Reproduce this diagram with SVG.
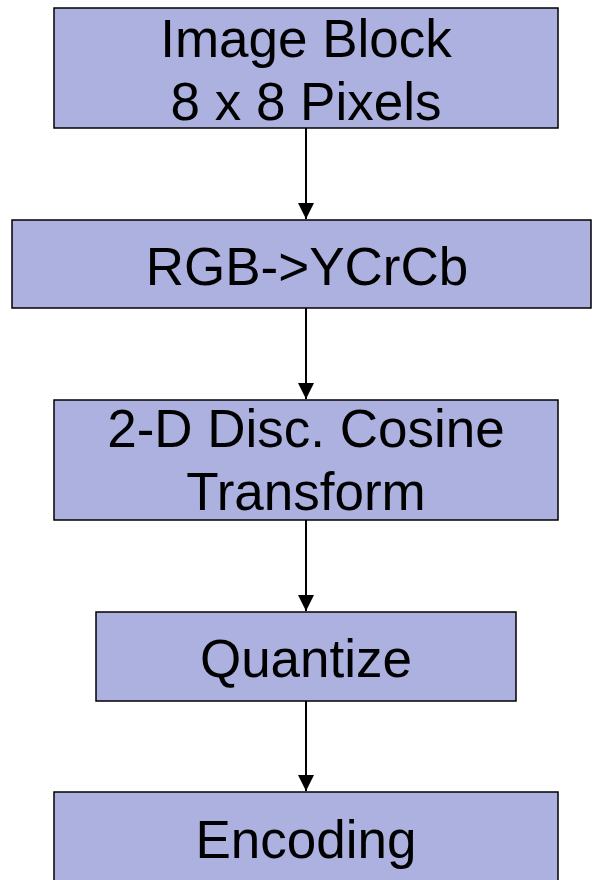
<svg xmlns="http://www.w3.org/2000/svg" width="592" height="880" viewBox="0 0 592 880">
<defs>
<style>
.box{fill:#ADB1E0;stroke:#000;stroke-width:1.5}
.t{font-family:"Liberation Sans",Arial,sans-serif;font-size:53px;fill:#000;text-anchor:middle}
.c{stroke:#000;stroke-width:2;fill:none;marker-end:url(#ah)}
</style>
<marker id="ah" markerUnits="userSpaceOnUse" markerWidth="16" markerHeight="16" refX="14" refY="7" orient="auto" viewBox="0 0 14 14">
<path d="M0,0 L14,7 L0,14 z" fill="#000"/>
</marker>
</defs>
<rect width="592" height="880" fill="#fff"/>
<g id="connectors">
<line class="c" x1="306" y1="128" x2="306" y2="219"/>
<line class="c" x1="306" y1="308" x2="306" y2="399"/>
<line class="c" x1="306" y1="520" x2="306" y2="611"/>
<line class="c" x1="306" y1="701" x2="306" y2="791"/>
</g>
<g id="n1">
<rect class="box" x="54" y="8" width="504" height="120"/>
<text class="t" x="306" y="57">Image Block</text>
<text class="t" x="306" y="120">8 x 8 Pixels</text>
</g>
<g id="n2">
<rect class="box" x="12" y="220" width="579" height="88"/>
<text class="t" x="307" y="285">RGB-&gt;YCrCb</text>
</g>
<g id="n3">
<rect class="box" x="54" y="400" width="504" height="120"/>
<text class="t" x="306" y="447">2-D Disc. Cosine</text>
<text class="t" x="306" y="510">Transform</text>
</g>
<g id="n4">
<rect class="box" x="96" y="612" width="420" height="89"/>
<text class="t" x="306" y="677">Quantize</text>
</g>
<g id="n5">
<rect class="box" x="54" y="792" width="504" height="100"/>
<text class="t" x="306" y="858">Encoding</text>
</g>
</svg>
